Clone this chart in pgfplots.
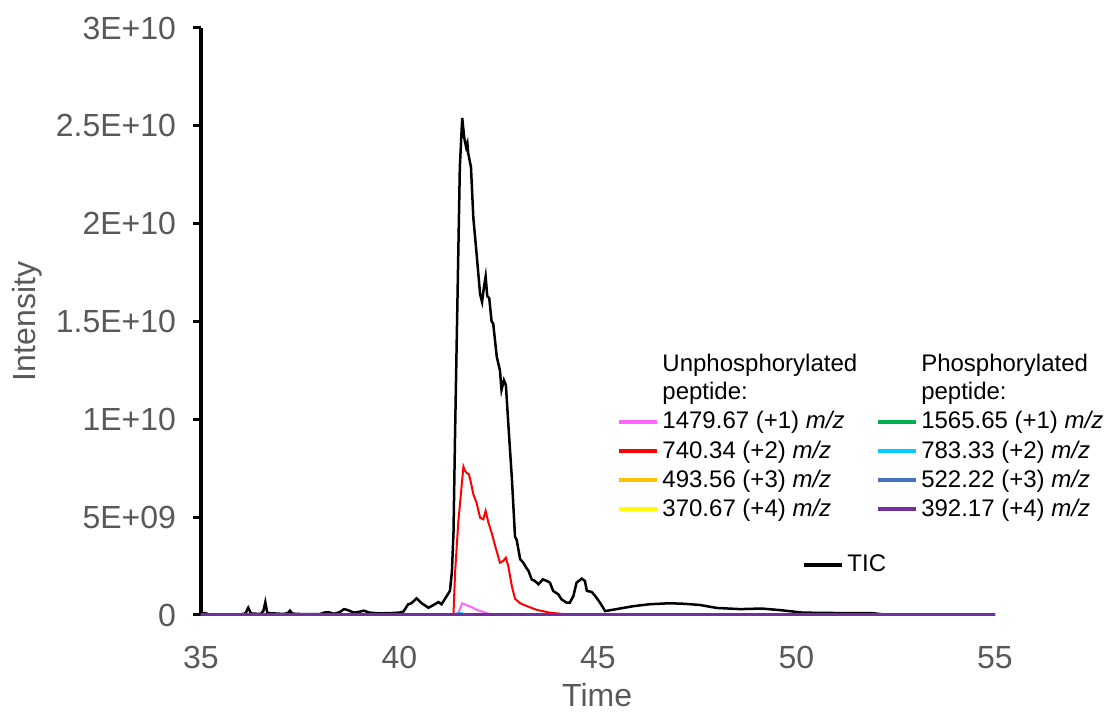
\documentclass[border=0pt]{standalone}
\usepackage{fontspec}
\setmainfont{Liberation Sans}
\usepackage{pgfplots}
\pgfplotsset{compat=1.18}

\definecolor{tickgray}{HTML}{595959}
\definecolor{cpink}{HTML}{FF66FF}
\definecolor{cred}{HTML}{FF0000}
\definecolor{corange}{HTML}{FFC000}
\definecolor{cyellow}{HTML}{FFFF00}
\definecolor{cgreen}{HTML}{00B050}
\definecolor{ccyan}{HTML}{00CCFF}
\definecolor{cblue}{HTML}{4472C4}
\definecolor{cpurple}{HTML}{7030A0}

\pgfplotsset{
  chrom/.style={
    at={(100.5pt,51pt)}, anchor=south west,
    scale only axis, width=397pt, height=293.5pt,
    xmin=35, xmax=55, ymin=0, ymax=30,
  },
  legend image code/.code={\draw[#1] (0pt,0pt) -- (19pt,0pt);},
}

\begin{document}
\begin{tikzpicture}
\path[use as bounding box] (0,0) rectangle (557.5pt,358.5pt);
\begin{axis}[
  chrom,
  clip=false,
  axis lines=left,
  axis line style={-},
  x axis line style={draw=none},
  y axis line style={line width=2pt, black},
  xtick={35,40,45,50,55},
  xticklabels={35,40,45,50,55},
  xtick style={draw=none},
  ytick={0,5,10,15,20,25,30},
  yticklabels={0,5E+09,1E+10,1.5E+10,2E+10,2.5E+10,3E+10},
  ytick style={line width=1.5pt, black},
  tick align=outside,
  major tick length=4pt,
  ticklabel style={font=\fontsize{16}{19}\selectfont, text=tickgray},
  yticklabel style={xshift=-5pt},
  xticklabel style={yshift=-8pt},
  xlabel={Time},
  ylabel={Intensity},
  label style={font=\fontsize{16}{19}\selectfont, text=tickgray},
  xlabel style={at={(axis description cs:0.499,-0.136)}, anchor=center},
  ylabel style={at={(axis description cs:-0.219,0.5)}, anchor=center},
  legend columns=2,
  legend cell align=left,
  legend style={
    at={(axis description cs:0.524,0.4465)}, anchor=north west,
    draw=none, fill=none,
    font=\fontsize{12}{14}\selectfont,
    inner xsep=0pt, inner ysep=0pt,
    row sep=3.4pt,
    nodes={inner xsep=1.5pt, inner ysep=0.5pt, align=left},
    /tikz/every even column/.append style={column sep=8pt},
  },
]
% TIC
\addplot[black, line width=1.25pt, forget plot] coordinates {
(35,0.05)(35.1,0.1)(35.2,0.03)(36.0,0.03)(36.12,0.08)(36.19,0.37)(36.26,0.08)
(36.5,0.05)(36.57,0.2)(36.62,0.65)(36.67,0.1)(37.1,0.05)(37.2,0.12)(37.24,0.22)
(37.3,0.07)(37.5,0.05)(38.0,0.05)(38.1,0.12)(38.2,0.15)(38.35,0.06)(38.5,0.15)
(38.6,0.3)(38.7,0.25)(38.85,0.12)(39.0,0.17)(39.1,0.22)(39.25,0.12)(39.5,0.08)
(39.8,0.1)(40.0,0.12)(40.1,0.18)(40.22,0.55)(40.3,0.6)(40.43,0.85)(40.56,0.6)
(40.73,0.37)(40.89,0.55)(40.98,0.66)(41.06,0.55)(41.19,0.97)(41.27,1.23)
(41.32,2.2)(41.36,4.2)(41.4,9.3)(41.46,16.1)(41.52,22.9)(41.58,25.4)
(41.63,24.4)(41.68,23.9)(41.71,24.1)(41.73,23.6)(41.76,23.3)(41.8,22.9)
(41.86,20.3)(41.94,18.5)(42.03,16.4)(42.08,16.0)(42.13,16.8)(42.17,17.3)
(42.21,16.3)(42.26,16.2)(42.32,15.0)(42.36,14.9)(42.45,13.2)(42.53,12.5)
(42.57,11.5)(42.63,12.0)(42.68,11.75)(42.74,9.8)(42.83,7.0)(42.91,4.0)
(42.95,3.85)(43.04,2.85)(43.12,2.67)(43.19,2.42)(43.25,2.25)(43.33,1.82)
(43.41,1.74)(43.5,1.57)(43.61,1.82)(43.71,1.74)(43.79,1.65)(43.87,1.23)
(44.0,1.06)(44.08,0.8)(44.21,0.63)(44.29,0.63)(44.38,0.97)(44.46,1.65)
(44.59,1.86)(44.67,1.74)(44.72,1.23)(44.84,1.18)(44.93,0.97)(45.05,0.63)
(45.18,0.2)(45.89,0.45)(46.3,0.55)(46.81,0.6)(47.2,0.57)(47.57,0.51)
(47.99,0.36)(48.58,0.3)(49.12,0.33)(49.58,0.25)(50.17,0.12)(51.01,0.1)
(51.93,0.09)(52.18,0.03)(55,0.02)
};
% 1479.67 (+1)
\addplot[cpink, line width=1pt, forget plot] coordinates {
(35,0)(41.36,0)(41.48,0.1)(41.58,0.6)(41.69,0.5)(41.82,0.4)(41.94,0.27)
(42.11,0.15)(42.28,0.04)(42.4,0)(55,0)
};
% 740.34 (+2)
\addplot[cred, line width=1pt, forget plot] coordinates {
(35,0)(41.2,0)(41.36,0.05)(41.4,2.16)(41.48,4.72)(41.61,7.58)(41.65,7.36)
(41.69,7.27)(41.75,7.19)(41.8,6.76)(41.86,6.17)(41.94,5.74)(42.03,4.97)
(42.11,4.89)(42.17,5.32)(42.24,4.72)(42.32,4.21)(42.41,3.53)(42.53,2.67)
(42.61,2.76)(42.68,2.93)(42.74,2.5)(42.83,1.48)(42.91,0.83)(43.04,0.6)
(43.2,0.46)(43.46,0.26)(43.79,0.12)(44.21,0.03)(44.72,0.01)(45,0)(55,0)
};
% 493.56 (+3)
\addplot[corange, line width=1pt, forget plot] coordinates {(35,0)(55,0)};
% 370.67 (+4)
\addplot[cyellow, line width=1pt, forget plot] coordinates {(35,0)(55,0)};
% 1565.65 (+1)
\addplot[cgreen, line width=1pt, forget plot] coordinates {(35,0)(55,0)};
% 783.33 (+2)
\addplot[ccyan, line width=1pt, forget plot] coordinates {
(35,0)(41.35,0)(41.45,0.08)(41.55,0.1)(41.65,0.03)(41.75,0)(55,0)
};
% 522.22 (+3)
\addplot[cblue, line width=1pt, forget plot] coordinates {(35,0)(55,0)};
% 392.17 (+4)
\addplot[cpurple, line width=1.5pt, forget plot] coordinates {(35,0)(55,0)};

\addlegendimage{white, draw opacity=0}
\addlegendentry{Unphosphorylated\\peptide:\rule[-9.5pt]{0pt}{9.5pt}}
\addlegendimage{white, draw opacity=0}
\addlegendentry{Phosphorylated\\peptide:\rule[-9.5pt]{0pt}{9.5pt}}
\addlegendimage{cpink, line width=2pt}
\addlegendentry{1479.67 (+1) \textit{m/z}}
\addlegendimage{cgreen, line width=2pt}
\addlegendentry{1565.65 (+1) \textit{m/z}}
\addlegendimage{cred, line width=2pt}
\addlegendentry{740.34 (+2) \textit{m/z}}
\addlegendimage{ccyan, line width=2pt}
\addlegendentry{783.33 (+2) \textit{m/z}}
\addlegendimage{corange, line width=2pt}
\addlegendentry{493.56 (+3) \textit{m/z}}
\addlegendimage{cblue, line width=2pt}
\addlegendentry{522.22 (+3) \textit{m/z}}
\addlegendimage{cyellow, line width=2pt}
\addlegendentry{370.67 (+4) \textit{m/z}}
\addlegendimage{cpurple, line width=2pt}
\addlegendentry{392.17 (+4) \textit{m/z}}
\end{axis}

\begin{axis}[
  chrom,
  hide axis,
  legend style={
    at={(axis description cs:0.757,0.085)}, anchor=west,
    draw=none, fill=none,
    font=\fontsize{12}{14}\selectfont,
    inner xsep=0pt, inner ysep=0pt,
    nodes={inner xsep=1.5pt, inner ysep=0.5pt},
  },
]
\addlegendimage{black, line width=2pt}
\addlegendentry{TIC}
\end{axis}
\end{tikzpicture}
\end{document}
